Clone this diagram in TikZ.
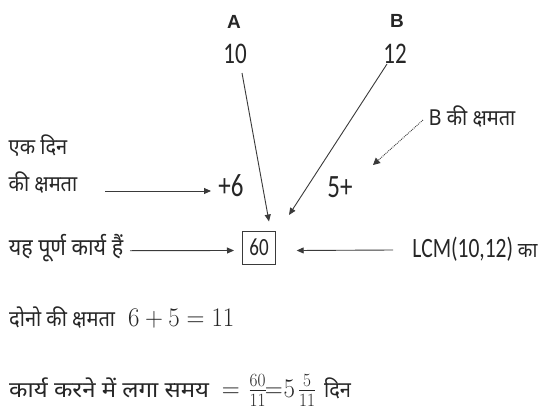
\documentclass[tikz,border=0pt]{standalone}
\usepackage{fontspec}
\usepackage{graphicx}
\setmainfont{Carlito}
\newfontfamily\hin[Script=Devanagari]{Noto Sans}
\newfontfamily\arl{Liberation Sans}
\usetikzlibrary{arrows.meta,calc}
\newcommand{\tl}[1]{\scalebox{1}[1.3]{#1}}
\newcommand{\tld}[1]{\scalebox{1}[1.1]{#1}}
\newcommand{\tlm}[1]{{\fontsize{26}{26}\selectfont\scalebox{1}[1.08]{#1}}}
\newcommand{\eqn}{{\fontsize{26}{26}\selectfont\scalebox{1}[1.08]{$=$}}}
\newcommand{\fr}[2]{{\textstyle\frac{#1}{#2}}}
\definecolor{ink}{HTML}{262626}
\definecolor{lin}{HTML}{3A3A3A}
\tikzset{
  lbl/.style={inner sep=0pt, text=ink},
  num/.style={lbl, font=\fontsize{23}{23}\selectfont},
  dev/.style={lbl, font=\hin\fontsize{20}{20}\selectfont},
  hdr/.style={lbl, font=\arl\bfseries\fontsize{19}{19}\selectfont},
  conn/.style={draw=lin, line width=0.9pt, -{Triangle[length=7pt,width=6pt]}},
  dconn/.style={draw=lin, line width=0.9pt, densely dotted, -{Triangle[length=7pt,width=7pt]}},
  boxn/.style={draw=lin, line width=1pt, minimum width=33pt, minimum height=33pt, inner sep=0pt, text=ink, font=\fontsize{19}{19}\selectfont}
}
\begin{document}
\begin{tikzpicture}[x=1pt,y=-1pt]
\useasboundingbox[fill=white] (0,0) rectangle (542,413);
\node[hdr] (hA) at (234,22) {A};
\node[hdr] (hB) at (397,21) {B};
\node[num] (n10) at (235,54) {\tl{10}};
\node[num] (n12) at (395,54) {\tl{12}};
\node[dev] (bk) at (472,117) {\tld{B की क्षमता}};
\node[dev] (ek) at (38,146) {\tld{एक दिन}};
\node[dev] (kk) at (43,183) {\tld{की क्षमता}};
\node[num, font=\fontsize{25}{25}\selectfont] (p6) at (231,186) {\tl{+6}};
\node[num, font=\fontsize{25}{25}\selectfont] (f5) at (340,187) {\tl{5+}};
\node[dev, font=\hin\fontsize{21.5}{21.5}\selectfont] (wp) at (66,248) {\tld{यह पूर्ण कार्य हैं}};
\node[boxn] (box) at (259,247.5) {\tl{60}};
\node[num, font=\fontsize{21.5}{21.5}\selectfont] (lcm) at (475,249) {\tl{LCM(10,12)} {\hin\fontsize{19}{19}\selectfont\tld{का}}};
\node[dev, anchor=base west] (l1) at (9,326) {\tld{दोनो की क्षमता}\hspace{13pt}\tlm{$6+5=11$}};
\node[dev, anchor=base west] (l2) at (9,397) {\scalebox{1.2}[1.1]{कार्य करने में लगा समय}\hspace{12.7pt}\eqn\hspace{8.7pt}\tlm{$\fr{60}{11}$}\hspace{-1.8pt}\eqn\hspace{0.7pt}\tlm{$5$}\hspace{3pt}\tlm{$\fr{5}{11}$}\hspace{8pt}\tld{दिन}};
\draw[conn] ([xshift=7pt,yshift=-19pt]n10.center) -- ([xshift=10pt,yshift=26pt]box.center);
\draw[conn] ([xshift=-8pt,yshift=-10pt]n12.center) -- ([xshift=30pt,yshift=32.5pt]box.center);
\draw[dconn] ([xshift=-49pt,yshift=-3pt]bk.center) -- ([xshift=33pt,yshift=22pt]f5.center);
\draw[conn] ([xshift=62pt,yshift=-8pt]kk.center) -- ([xshift=-20pt,yshift=-5pt]p6.center);
\draw[conn] ([xshift=64pt,yshift=-2.7pt]wp.center) -- ([xshift=-25pt,yshift=-3pt]box.center);
\draw[conn] ([xshift=-82pt,yshift=-1pt]lcm.center) -- ([xshift=37.7pt,yshift=-3pt]box.center);
\end{tikzpicture}
\end{document}
